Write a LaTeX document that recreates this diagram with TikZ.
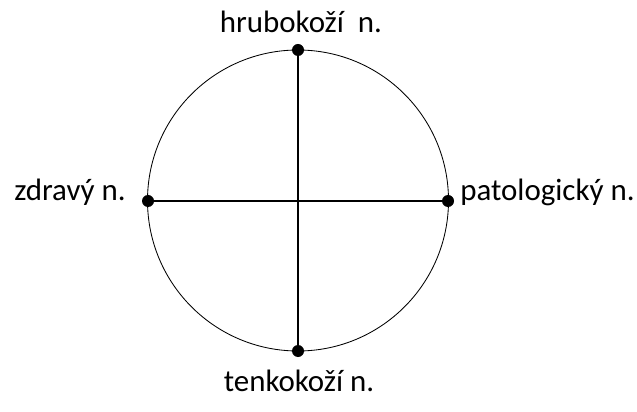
\documentclass[tikz,border=0pt]{standalone}
\usepackage{fontspec}
\setmainfont{Carlito}
\usetikzlibrary{positioning}

\begin{document}
\begin{tikzpicture}[
    x=0.025cm, y=-0.025cm,
    dot/.style={circle, fill=black, inner sep=0pt, minimum size=0.3cm},
    label/.style={font=\fontsize{22}{26}\selectfont, text=black, inner sep=0pt},
    axis/.style={line width=0.8pt, black}
]
\useasboundingbox (0,0) rectangle (637,412);

% Circle
\node[draw, circle, line width=0.6pt, minimum size=301*0.025cm, inner sep=0pt] (kruh) at (298,200.5) {};

% Points
\node[dot] (hore) at (298,50) {};
\node[dot] (dole) at (298,351) {};
\node[dot] (vlavo) at (148,201) {};
\node[dot] (vpravo) at (448,201) {};

\draw[axis] (hore) -- (dole);
\draw[axis] (vlavo) -- (vpravo);

% Labels
\node[label] (hrubo) at (301,22) {hrubokoží\ \ n.};
\node[label] (tenko) at (299,381) {tenkokoží n.};
\node[label, anchor=east] (zdravy) at (126,192) {zdravý n.};
\node[label, anchor=west] (pato) at (460,192) {patologický n.};

\end{tikzpicture}
\end{document}
